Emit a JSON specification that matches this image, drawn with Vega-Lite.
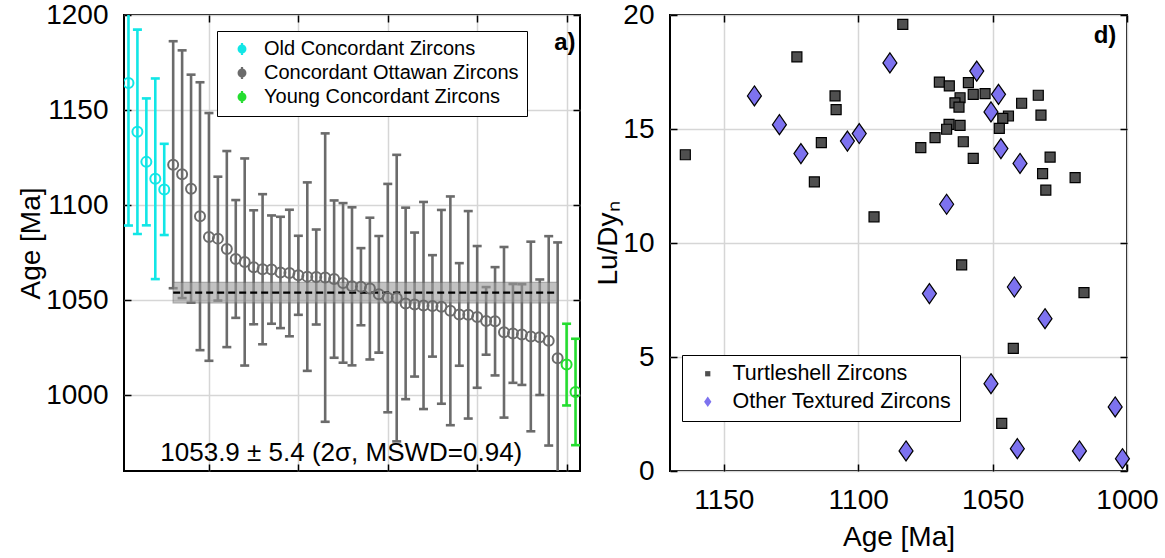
{
  "$schema": "https://vega.github.io/schema/vega-lite/v6.json",
  "background": "white",
  "padding": {"left": 16, "top": 0, "right": 5, "bottom": 5},
  "spacing": 11,
  "config": {
    "font": "Liberation Sans",
    "view": {"stroke": "black", "strokeWidth": 2},
    "axis": {
      "domain": false,
      "gridColor": "#d6d6d6",
      "gridWidth": 1.5,
      "tickColor": "black",
      "tickSize": -7,
      "tickWidth": 1.5,
      "labelFlush": false,
      "labelFont": "Liberation Sans",
      "labelFontSize": 28,
      "labelColor": "black",
      "titleFont": "Liberation Sans",
      "titleFontSize": 28,
      "titleFontWeight": "normal",
      "titleColor": "black"
    },
    "legend": {"labelFont": "Liberation Sans", "labelColor": "black", "labelLimit": 500}
  },
  "resolve": {
    "scale": {"color": "independent", "shape": "independent", "fill": "independent"},
    "legend": {"color": "independent", "shape": "independent", "fill": "independent"}
  },
  "hconcat": [
    {
      "width": 456,
      "height": 456,
      "data": {"values": [
        {"i": 1, "age": 1164.2, "lo": 1089.2, "hi": 1239.2, "group": "Old Concordant Zircons"},
        {"i": 2, "age": 1138.5, "lo": 1084.7, "hi": 1192.3, "group": "Old Concordant Zircons"},
        {"i": 3, "age": 1122.7, "lo": 1089.3, "hi": 1156.1, "group": "Old Concordant Zircons"},
        {"i": 4, "age": 1113.8, "lo": 1061.0, "hi": 1166.6, "group": "Old Concordant Zircons"},
        {"i": 5, "age": 1108.2, "lo": 1084.2, "hi": 1132.2, "group": "Old Concordant Zircons"},
        {"i": 6, "age": 1121.2, "lo": 1056.2, "hi": 1186.2, "group": "Concordant Ottawan Zircons"},
        {"i": 7, "age": 1116.2, "lo": 1051.0, "hi": 1181.4, "group": "Concordant Ottawan Zircons"},
        {"i": 8, "age": 1108.6, "lo": 1048.6, "hi": 1168.6, "group": "Concordant Ottawan Zircons"},
        {"i": 9, "age": 1094.1, "lo": 1023.6, "hi": 1164.6, "group": "Concordant Ottawan Zircons"},
        {"i": 10, "age": 1083.2, "lo": 1018.0, "hi": 1148.4, "group": "Concordant Ottawan Zircons"},
        {"i": 11, "age": 1082.3, "lo": 1049.7, "hi": 1114.9, "group": "Concordant Ottawan Zircons"},
        {"i": 12, "age": 1076.8, "lo": 1025.2, "hi": 1128.4, "group": "Concordant Ottawan Zircons"},
        {"i": 13, "age": 1071.6, "lo": 1040.6, "hi": 1102.6, "group": "Concordant Ottawan Zircons"},
        {"i": 14, "age": 1070.0, "lo": 1015.5, "hi": 1124.5, "group": "Concordant Ottawan Zircons"},
        {"i": 15, "age": 1067.2, "lo": 1037.2, "hi": 1097.2, "group": "Concordant Ottawan Zircons"},
        {"i": 16, "age": 1066.2, "lo": 1026.7, "hi": 1105.7, "group": "Concordant Ottawan Zircons"},
        {"i": 17, "age": 1066.0, "lo": 1037.5, "hi": 1094.5, "group": "Concordant Ottawan Zircons"},
        {"i": 18, "age": 1064.5, "lo": 1035.2, "hi": 1093.8, "group": "Concordant Ottawan Zircons"},
        {"i": 19, "age": 1064.2, "lo": 1030.9, "hi": 1097.5, "group": "Concordant Ottawan Zircons"},
        {"i": 20, "age": 1063.0, "lo": 1042.2, "hi": 1083.8, "group": "Concordant Ottawan Zircons"},
        {"i": 21, "age": 1062.3, "lo": 1012.7, "hi": 1111.9, "group": "Concordant Ottawan Zircons"},
        {"i": 22, "age": 1062.1, "lo": 1037.1, "hi": 1087.1, "group": "Concordant Ottawan Zircons"},
        {"i": 23, "age": 1061.8, "lo": 985.9, "hi": 1137.7, "group": "Concordant Ottawan Zircons"},
        {"i": 24, "age": 1061.0, "lo": 1019.6, "hi": 1102.4, "group": "Concordant Ottawan Zircons"},
        {"i": 25, "age": 1059.0, "lo": 1017.0, "hi": 1101.0, "group": "Concordant Ottawan Zircons"},
        {"i": 26, "age": 1057.2, "lo": 1015.6, "hi": 1098.8, "group": "Concordant Ottawan Zircons"},
        {"i": 27, "age": 1057.0, "lo": 1036.7, "hi": 1077.3, "group": "Concordant Ottawan Zircons"},
        {"i": 28, "age": 1056.0, "lo": 1018.7, "hi": 1093.3, "group": "Concordant Ottawan Zircons"},
        {"i": 29, "age": 1053.0, "lo": 1022.3, "hi": 1083.7, "group": "Concordant Ottawan Zircons"},
        {"i": 30, "age": 1051.2, "lo": 990.9, "hi": 1111.1, "group": "Concordant Ottawan Zircons"},
        {"i": 31, "age": 1051.0, "lo": 975.6, "hi": 1126.4, "group": "Concordant Ottawan Zircons"},
        {"i": 32, "age": 1048.2, "lo": 997.8, "hi": 1098.6, "group": "Concordant Ottawan Zircons"},
        {"i": 33, "age": 1047.6, "lo": 1009.7, "hi": 1085.5, "group": "Concordant Ottawan Zircons"},
        {"i": 34, "age": 1047.1, "lo": 992.6, "hi": 1101.6, "group": "Concordant Ottawan Zircons"},
        {"i": 35, "age": 1046.9, "lo": 1020.2, "hi": 1073.6, "group": "Concordant Ottawan Zircons"},
        {"i": 36, "age": 1046.4, "lo": 995.4, "hi": 1097.4, "group": "Concordant Ottawan Zircons"},
        {"i": 37, "age": 1044.3, "lo": 984.1, "hi": 1104.5, "group": "Concordant Ottawan Zircons"},
        {"i": 38, "age": 1042.4, "lo": 1015.4, "hi": 1069.4, "group": "Concordant Ottawan Zircons"},
        {"i": 39, "age": 1042.2, "lo": 987.6, "hi": 1096.8, "group": "Concordant Ottawan Zircons"},
        {"i": 40, "age": 1041.1, "lo": 1003.8, "hi": 1078.4, "group": "Concordant Ottawan Zircons"},
        {"i": 41, "age": 1039.0, "lo": 1021.2, "hi": 1056.8, "group": "Concordant Ottawan Zircons"},
        {"i": 42, "age": 1038.8, "lo": 1010.3, "hi": 1067.3, "group": "Concordant Ottawan Zircons"},
        {"i": 43, "age": 1033.0, "lo": 988.1, "hi": 1077.9, "group": "Concordant Ottawan Zircons"},
        {"i": 44, "age": 1032.4, "lo": 1006.4, "hi": 1058.4, "group": "Concordant Ottawan Zircons"},
        {"i": 45, "age": 1031.8, "lo": 1005.3, "hi": 1058.3, "group": "Concordant Ottawan Zircons"},
        {"i": 46, "age": 1030.8, "lo": 980.9, "hi": 1080.7, "group": "Concordant Ottawan Zircons"},
        {"i": 47, "age": 1030.4, "lo": 1000.0, "hi": 1060.8, "group": "Concordant Ottawan Zircons"},
        {"i": 48, "age": 1028.5, "lo": 973.4, "hi": 1083.6, "group": "Concordant Ottawan Zircons"},
        {"i": 49, "age": 1019.3, "lo": 958.3, "hi": 1080.3, "group": "Concordant Ottawan Zircons"},
        {"i": 50, "age": 1016.0, "lo": 994.5, "hi": 1037.5, "group": "Young Concordant Zircons"},
        {"i": 51, "age": 1001.6, "lo": 973.6, "hi": 1029.6, "group": "Young Concordant Zircons"}
      ]},
      "layer": [
        {
          "mark": {"type": "rule", "strokeWidth": 2.6, "clip": true, "opacity": 1},
          "encoding": {
            "x": {"field": "i", "type": "quantitative", "scale": {"domain": [0.5, 51.5], "nice": false, "zero": false},
                  "axis": {"orient": "bottom", "values": [10, 20, 30, 40, 50], "labels": false, "title": null, "grid": true}},
            "y": {"field": "lo", "type": "quantitative", "scale": {"domain": [960, 1200], "nice": false, "zero": false},
                  "axis": {"orient": "left", "values": [1000, 1050, 1100, 1150, 1200], "format": "d", "title": "Age [Ma]", "grid": true, "labelPadding": 23, "titlePadding": 0}},
            "y2": {"field": "hi"},
            "color": {"field": "group", "type": "nominal",
                      "scale": {"domain": ["Old Concordant Zircons", "Concordant Ottawan Zircons", "Young Concordant Zircons"], "range": ["#12e6e6", "#6b6b6b", "#25dd30"]},
                      "legend": {"orient": "none", "legendX": 93, "legendY": 16, "title": null,
                                 "symbolType": "M0,-1V1M0.55,0A0.55,0.55,0,1,1,-0.55,0A0.55,0.55,0,1,1,0.55,0",
                                 "symbolSize": 150, "symbolStrokeWidth": 2.2, "symbolFillColor": "transparent",
                                 "labelFontSize": 20, "labelColor": "black", "labelLimit": 500, "strokeColor": "black", "fillColor": "white",
                                 "padding": 8, "rowPadding": 2, "symbolOffset": 7, "labelOffset": 12}}
          }
        },
        {
          "mark": {"type": "tick", "orient": "horizontal", "size": 9, "thickness": 2.6, "clip": true, "opacity": 1},
          "encoding": {
            "x": {"field": "i", "type": "quantitative", "axis": null},
            "y": {"field": "lo", "type": "quantitative", "axis": null},
            "color": {"field": "group", "type": "nominal"}
          }
        },
        {
          "mark": {"type": "tick", "orient": "horizontal", "size": 9, "thickness": 2.6, "clip": true, "opacity": 1},
          "encoding": {
            "x": {"field": "i", "type": "quantitative", "axis": null},
            "y": {"field": "hi", "type": "quantitative", "axis": null},
            "color": {"field": "group", "type": "nominal"}
          }
        },
        {
          "data": {"values": [{"start": 6, "end": 49, "lower": 1048.5, "upper": 1059.3}]},
          "mark": {"type": "rect", "fill": "#9a9a9a", "opacity": 0.6, "stroke": "#6e6e6e", "strokeWidth": 1.2},
          "encoding": {
            "x": {"field": "start", "type": "quantitative", "axis": {"orient": "top", "values": [10, 20, 30, 40, 50], "labels": false, "title": null, "grid": false}},
            "x2": {"field": "end"},
            "y": {"field": "lower", "type": "quantitative", "axis": {"orient": "right", "values": [1000, 1050, 1100, 1150, 1200], "labels": false, "title": null, "grid": false}},
            "y2": {"field": "upper"}
          }
        },
        {
          "data": {"values": [{"start": 6, "end": 49, "mean": 1053.9}]},
          "mark": {"type": "rule", "color": "black", "strokeWidth": 2.2, "strokeDash": [7, 4]},
          "encoding": {
            "x": {"field": "start", "type": "quantitative", "axis": null},
            "x2": {"field": "end"},
            "y": {"field": "mean", "type": "quantitative", "axis": null}
          }
        },
        {
          "mark": {"type": "point", "shape": "circle", "filled": false, "size": 100, "strokeWidth": 2, "clip": true, "opacity": 1},
          "encoding": {
            "x": {"field": "i", "type": "quantitative", "axis": null},
            "y": {"field": "age", "type": "quantitative", "axis": null},
            "color": {"field": "group", "type": "nominal"}
          }
        },
        {
          "data": {"values": [{"note": "1053.9 ± 5.4 (2σ, MSWD=0.94)"}]},
          "mark": {"type": "text", "fontSize": 26, "align": "center", "baseline": "middle", "color": "black"},
          "encoding": {
            "x": {"datum": 24.8, "type": "quantitative", "axis": null},
            "y": {"datum": 969.5, "type": "quantitative", "axis": null},
            "text": {"field": "note"}
          }
        },
        {
          "data": {"values": [{"tag": "a)"}]},
          "mark": {"type": "text", "fontSize": 24, "fontWeight": "bold", "align": "center", "baseline": "middle", "color": "black"},
          "encoding": {
            "x": {"datum": 49.8, "type": "quantitative", "axis": null},
            "y": {"datum": 1185.3, "type": "quantitative", "axis": null},
            "text": {"field": "tag"}
          }
        }
      ]
    },
    {
      "width": 457,
      "height": 456,
      "data": {"values": [
        {"age": 1164.3, "ratio": 13.87, "type": "Turtleshell Zircons"},
        {"age": 1122.8, "ratio": 18.16, "type": "Turtleshell Zircons"},
        {"age": 1108.6, "ratio": 16.45, "type": "Turtleshell Zircons"},
        {"age": 1108.2, "ratio": 15.85, "type": "Turtleshell Zircons"},
        {"age": 1113.7, "ratio": 14.4, "type": "Turtleshell Zircons"},
        {"age": 1116.3, "ratio": 12.68, "type": "Turtleshell Zircons"},
        {"age": 1094.1, "ratio": 11.15, "type": "Turtleshell Zircons"},
        {"age": 1083.4, "ratio": 19.59, "type": "Turtleshell Zircons"},
        {"age": 1069.8, "ratio": 17.06, "type": "Turtleshell Zircons"},
        {"age": 1066.1, "ratio": 16.89, "type": "Turtleshell Zircons"},
        {"age": 1059.0, "ratio": 17.03, "type": "Turtleshell Zircons"},
        {"age": 1057.2, "ratio": 16.52, "type": "Turtleshell Zircons"},
        {"age": 1052.8, "ratio": 16.55, "type": "Turtleshell Zircons"},
        {"age": 1062.1, "ratio": 16.37, "type": "Turtleshell Zircons"},
        {"age": 1064.0, "ratio": 16.15, "type": "Turtleshell Zircons"},
        {"age": 1062.5, "ratio": 15.96, "type": "Turtleshell Zircons"},
        {"age": 1033.0, "ratio": 16.48, "type": "Turtleshell Zircons"},
        {"age": 1039.2, "ratio": 16.13, "type": "Turtleshell Zircons"},
        {"age": 1032.0, "ratio": 15.61, "type": "Turtleshell Zircons"},
        {"age": 1044.1, "ratio": 15.57, "type": "Turtleshell Zircons"},
        {"age": 1046.2, "ratio": 15.47, "type": "Turtleshell Zircons"},
        {"age": 1047.5, "ratio": 15.03, "type": "Turtleshell Zircons"},
        {"age": 1066.2, "ratio": 15.2, "type": "Turtleshell Zircons"},
        {"age": 1062.1, "ratio": 15.16, "type": "Turtleshell Zircons"},
        {"age": 1067.1, "ratio": 14.99, "type": "Turtleshell Zircons"},
        {"age": 1071.4, "ratio": 14.62, "type": "Turtleshell Zircons"},
        {"age": 1076.7, "ratio": 14.18, "type": "Turtleshell Zircons"},
        {"age": 1060.9, "ratio": 14.44, "type": "Turtleshell Zircons"},
        {"age": 1057.2, "ratio": 13.71, "type": "Turtleshell Zircons"},
        {"age": 1028.6, "ratio": 13.77, "type": "Turtleshell Zircons"},
        {"age": 1031.4, "ratio": 13.04, "type": "Turtleshell Zircons"},
        {"age": 1019.3, "ratio": 12.87, "type": "Turtleshell Zircons"},
        {"age": 1030.2, "ratio": 12.32, "type": "Turtleshell Zircons"},
        {"age": 1061.5, "ratio": 9.04, "type": "Turtleshell Zircons"},
        {"age": 1016.0, "ratio": 7.82, "type": "Turtleshell Zircons"},
        {"age": 1042.3, "ratio": 5.38, "type": "Turtleshell Zircons"},
        {"age": 1046.6, "ratio": 2.09, "type": "Turtleshell Zircons"},
        {"age": 1138.6, "ratio": 16.45, "type": "Other Textured Zircons"},
        {"age": 1129.3, "ratio": 15.19, "type": "Other Textured Zircons"},
        {"age": 1121.3, "ratio": 13.92, "type": "Other Textured Zircons"},
        {"age": 1104.0, "ratio": 14.47, "type": "Other Textured Zircons"},
        {"age": 1099.6, "ratio": 14.8, "type": "Other Textured Zircons"},
        {"age": 1088.2, "ratio": 17.9, "type": "Other Textured Zircons"},
        {"age": 1055.9, "ratio": 17.54, "type": "Other Textured Zircons"},
        {"age": 1047.8, "ratio": 16.52, "type": "Other Textured Zircons"},
        {"age": 1050.6, "ratio": 15.75, "type": "Other Textured Zircons"},
        {"age": 1046.9, "ratio": 14.14, "type": "Other Textured Zircons"},
        {"age": 1039.8, "ratio": 13.49, "type": "Other Textured Zircons"},
        {"age": 1067.1, "ratio": 11.7, "type": "Other Textured Zircons"},
        {"age": 1073.5, "ratio": 7.78, "type": "Other Textured Zircons"},
        {"age": 1041.9, "ratio": 8.07, "type": "Other Textured Zircons"},
        {"age": 1030.5, "ratio": 6.68, "type": "Other Textured Zircons"},
        {"age": 1050.6, "ratio": 3.83, "type": "Other Textured Zircons"},
        {"age": 1004.4, "ratio": 2.81, "type": "Other Textured Zircons"},
        {"age": 1082.2, "ratio": 0.88, "type": "Other Textured Zircons"},
        {"age": 1040.8, "ratio": 0.98, "type": "Other Textured Zircons"},
        {"age": 1017.7, "ratio": 0.88, "type": "Other Textured Zircons"},
        {"age": 1001.7, "ratio": 0.54, "type": "Other Textured Zircons"}
      ]},
      "layer": [
        {
          "mark": {"type": "point", "filled": true, "stroke": "black", "strokeWidth": 1.2, "opacity": 1, "size": 400},
          "encoding": {
            "x": {"field": "age", "type": "quantitative", "scale": {"domain": [1000, 1170], "reverse": true, "nice": false, "zero": false},
                  "axis": {"orient": "bottom", "values": [1000, 1050, 1100, 1150], "format": "d", "title": "Age [Ma]", "grid": true, "labelPadding": 22, "titlePadding": 9}},
            "y": {"field": "ratio", "type": "quantitative", "scale": {"domain": [0, 20], "nice": false, "zero": false},
                  "axis": {"orient": "left", "values": [0, 5, 10, 15, 20], "title": "Lu/Dyₙ", "grid": true, "labelPadding": 23, "titlePadding": 0}},
            "shape": {"field": "type", "type": "nominal",
                      "scale": {"domain": ["Turtleshell Zircons", "Other Textured Zircons"], "range": ["M-0.5,-0.5H0.5V0.5H-0.5Z", "M0,-1L0.7,0L0,1L-0.7,0Z"]},
                      "legend": {"orient": "none", "legendX": 12, "legendY": 340, "title": null, "symbolSize": 110,
                                 "symbolStrokeColor": "black", "symbolStrokeWidth": 1,
                                 "labelFontSize": 21.5, "labelColor": "black", "labelLimit": 500, "strokeColor": "black", "fillColor": "white",
                                 "padding": 8, "rowPadding": 5, "symbolOffset": 7, "labelOffset": 14}},
            "fill": {"field": "type", "type": "nominal",
                     "scale": {"domain": ["Turtleshell Zircons", "Other Textured Zircons"], "range": ["#4f4f4f", "#7d72ef"]},
                     "legend": {"orient": "none", "legendX": 12, "legendY": 340, "title": null, "symbolSize": 110,
                                "symbolStrokeColor": "black", "symbolStrokeWidth": 1,
                                "labelFontSize": 21.5, "labelColor": "black", "labelLimit": 500, "strokeColor": "black", "fillColor": "white",
                                "padding": 8, "rowPadding": 5, "symbolOffset": 7, "labelOffset": 14}}
          }
        },
        {
          "data": {"values": [{"tag": "d)"}]},
          "mark": {"type": "text", "fontSize": 24, "fontWeight": "bold", "align": "center", "baseline": "middle", "color": "black"},
          "encoding": {
            "x": {"datum": 1008.2, "type": "quantitative", "axis": {"orient": "top", "values": [1000, 1050, 1100, 1150], "labels": false, "title": null, "grid": false}},
            "y": {"datum": 19.08, "type": "quantitative", "axis": {"orient": "right", "values": [0, 5, 10, 15, 20], "labels": false, "title": null, "grid": false}},
            "text": {"field": "tag"}
          }
        }
      ]
    }
  ]
}
